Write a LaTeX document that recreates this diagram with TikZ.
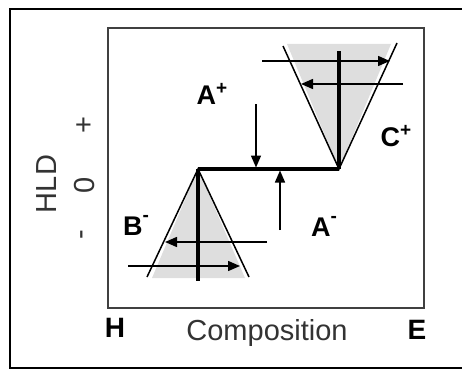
\documentclass[tikz,border=0pt]{standalone}
\usepackage{fontspec}
\setmainfont{Liberation Sans}
\usetikzlibrary{arrows.meta}
\newcommand{\supplus}{\raisebox{0.38em}{\fontsize{19}{20}\selectfont\bfseries +}}
\newcommand{\supminus}{\raisebox{0.52em}{\fontsize{19}{20}\selectfont\bfseries -}}
\begin{document}
\begin{tikzpicture}[x=1pt,y=-1pt,
  thinline/.style={line width=1.5pt,draw=black},
  arr/.style={thinline,-{Triangle[length=12pt,width=10pt]}},
  thickline/.style={line width=3.6pt,draw=black},
  shade/.style={fill=black!13,draw=none},
  lbl/.style={font=\fontsize{27}{30}\selectfont\bfseries,inner sep=0pt},
  axislbl/.style={font=\fontsize{29}{32}\selectfont,text=black!80,inner sep=0pt},
  endlbl/.style={font=\fontsize{28}{32}\selectfont\bfseries,inner sep=0pt}]
\useasboundingbox (0,0) rectangle (462,369);
% outer frame (right side cut off)
\draw[line width=2pt] (462,9) -- (10,9) -- (10,368) -- (462,368);
% inner plot box
\draw[line width=2.2pt,draw=black!75] (108,28) rectangle (424,308);
% key coordinates
\coordinate (bapex) at (198,169);
\coordinate (capex) at (339,169);
\coordinate (bl) at (147,277);
\coordinate (br) at (249,277);
\coordinate (cl) at (283,46);
\coordinate (cr) at (397,43);
% shaded regions
\fill[shade] (bapex) -- (152,278) -- (245,278) -- cycle;
\fill[shade] (capex) -- (287,44) -- (391,44) -- cycle;
% triangle edges
\draw[thinline] (bl) -- (bapex) -- (br);
\draw[thinline] (cl) -- (capex) -- (cr);
% thick verticals
\coordinate (bbot) at (198,281);
\coordinate (ctop) at (339,51);
\draw[thickline] (bapex) -- (bbot);
\draw[thickline] (capex) -- (ctop);
% zigzag horizontal
\draw[line width=3.2pt,line cap=square] (bapex) -- (capex);
% horizontal arrows lower
\coordinate (l1s) at (267,242); \coordinate (l1e) at (165,242);
\coordinate (l2s) at (128,266); \coordinate (l2e) at (240,266);
\draw[arr] (l1s) -- (l1e);
\draw[arr] (l2s) -- (l2e);
% horizontal arrows upper
\coordinate (u1s) at (262,61); \coordinate (u1e) at (390,61);
\coordinate (u2s) at (403,84); \coordinate (u2e) at (301,84);
\draw[arr] (u1s) -- (u1e);
\draw[arr] (u2s) -- (u2e);
% vertical arrows
\coordinate (ds) at (256,104); \coordinate (de) at (256,167.5);
\coordinate (us) at (280,230); \coordinate (ue) at (280,170.5);
\draw[arr] (ds) -- (de);
\draw[arr] (us) -- (ue);
% region labels
\node[lbl] (ap) at (212,94) {A\supplus};
\node[lbl] (cp) at (396,136) {C\supplus};
\node[lbl] (bm) at (136,225) {B\supminus};
\node[lbl] (am) at (324,226) {A\supminus};
% axis labels
\node[axislbl,rotate=90] (hld) at (47,184) {HLD};
\node[axislbl,rotate=90] (plus) at (85,125) {+};
\node[axislbl,rotate=90] (zero) at (85,185) {0};
\node[axislbl,rotate=90] (minus) at (85,235) {-};
\node[endlbl] (h) at (115,328) {H};
\node[axislbl] (comp) at (267,333) {Composition};
\node[endlbl] (e) at (417,330) {E};
\end{tikzpicture}
\end{document}
